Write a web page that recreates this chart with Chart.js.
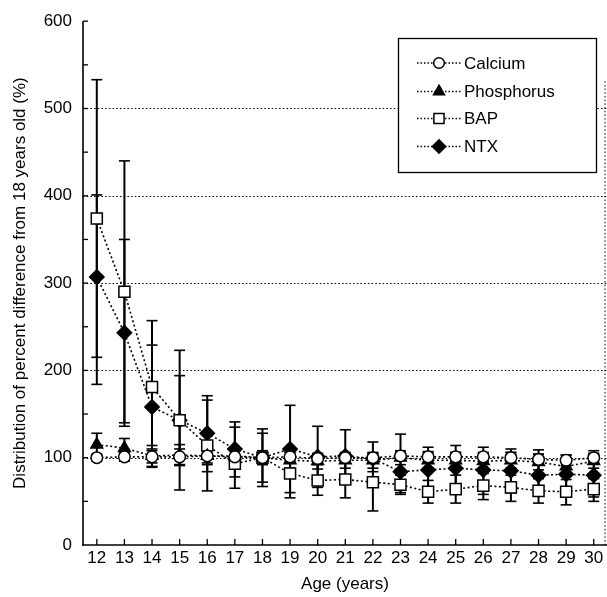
<!DOCTYPE html>
<html>
<head>
<meta charset="utf-8">
<script src="https://cdn.jsdelivr.net/npm/chart.js@4.4.1/dist/chart.umd.min.js"></script>
<style>
html,body{margin:0;padding:0;background:#fff;}
#wrap{width:607px;height:597px;position:relative;}
</style>
</head>
<body>
<div id="wrap"><canvas id="c" width="607" height="597"></canvas></div>
<script>
// ---- Data ----
const ages = [12,13,14,15,16,17,18,19,20,21,22,23,24,25,26,27,28,29,30];
const yTickValues = [0,100,200,300,400,500,600];

const calcium     = [100,101,101,101,102,101,100,101, 99,100,100,102,101,101,101,100, 98, 97,100];
const calciumHigh = [104,106,108,110,110,108,106,106,104,105,105,106,107,106,106,106,104,103,105];
const calciumLow  = [ 96, 96, 94, 92, 94, 94, 94, 96, 94, 95, 95, 98, 95, 96, 96, 94, 92, 91, 95];

const phosphorus     = [115,111,102,103,102,102,100, 97, 96, 97, 97,100, 97, 97, 96, 97, 95, 90, 96];
const phosphorusHigh = [128,122,114,115,112,110,108,106,105,106,106,108,106,106,105,106,104,100,104];
const phosphorusLow  = [102,100, 90, 91, 92, 94, 92, 88, 87, 88, 88, 92, 88, 88, 87, 88, 86, 80, 88];

const bap     = [374,290,181,143,114, 93,100, 82, 74, 75, 72, 69, 61, 64, 68, 66, 62, 61, 64];
const bapHigh = [533,440,257,223,166,135,133,110, 92, 96,105, 80, 74, 80, 82, 80, 76, 75, 76];
const bapLow  = [215,140,110, 63, 62, 65, 67, 54, 57, 54, 39, 60, 48, 48, 52, 50, 48, 46, 50];

const ntx     = [307,243,158,143,128,110,100,110,101,102, 99, 84, 86, 88, 86, 85, 80, 81, 80];
const ntxHigh = [401,350,229,194,171,141,128,160,136,132,118,127,112,114,112,110,109,103,108];
const ntxLow  = [184,136, 89, 92, 84, 78, 72, 60, 66, 72, 84, 58, 62, 62, 58, 60, 56, 60, 55];

const seriesNames = ['Calcium','Phosphorus','BAP','NTX'];

// ---- Build ----
const FONT = '"Liberation Sans", Arial, Helvetica, sans-serif';
const toPts = arr => arr.map((v,i)=>({x:ages[i], y:v}));
const styles = [
  {pointStyle:'circle',   radius:5.8, fill:'#fff'},
  {pointStyle:'triangle', radius:6.8, fill:'#000'},
  {pointStyle:'rect',     radius:7.8, fill:'#fff'},
  {pointStyle:'rectRot',  radius:7.2, fill:'#000'}
];
const values = [calcium, phosphorus, bap, ntx];
const highs = [calciumHigh, phosphorusHigh, bapHigh, ntxHigh];
const lows  = [calciumLow, phosphorusLow, bapLow, ntxLow];

const datasets = values.map((v,k)=>({
  label: seriesNames[k],
  data: toPts(v),
  borderColor:'#000',
  borderWidth:1.6,
  borderDash:[2,2.5],
  pointStyle: styles[k].pointStyle,
  pointRadius: styles[k].radius,
  pointBackgroundColor: styles[k].fill,
  pointBorderColor:'#000',
  pointBorderWidth:1.5,
  fill:false,
  tension:0,
  clip:false
}));

function line(ctx,x1,y1,x2,y2){ctx.beginPath();ctx.moveTo(x1,y1);ctx.lineTo(x2,y2);ctx.stroke();}

function drawMarker(ctx, st, x, y){
  ctx.save();
  ctx.fillStyle = st.fill; ctx.strokeStyle='#000'; ctx.lineWidth=1.5;
  const r = st.radius;
  ctx.beginPath();
  if(st.pointStyle==='circle'){ ctx.arc(x,y,r,0,Math.PI*2); }
  else if(st.pointStyle==='triangle'){
    ctx.moveTo(x, y-r); ctx.lineTo(x+r*0.866, y+r*0.5); ctx.lineTo(x-r*0.866, y+r*0.5); ctx.closePath();
  } else if(st.pointStyle==='rect'){
    const s=r*Math.SQRT1_2; ctx.rect(x-s,y-s,2*s,2*s);
  } else {
    ctx.moveTo(x,y-r); ctx.lineTo(x+r,y); ctx.lineTo(x,y+r); ctx.lineTo(x-r,y); ctx.closePath();
  }
  ctx.fill(); ctx.stroke();
  ctx.restore();
}

const overlay = {
  id:'overlay',
  beforeDatasetsDraw(chart){
    const {ctx, chartArea:a, scales:{x,y}} = chart;
    ctx.save();
    ctx.strokeStyle='#000';
    // dotted horizontal grid
    ctx.lineWidth=1.2; ctx.setLineDash([1.5,2.2]);
    yTickValues.filter(v=>v>0 && v<600).forEach(v=>{
      const py=Math.round(y.getPixelForValue(v))+0.5; line(ctx,a.left,py,a.right,py);
    });
    // right dotted border
    ctx.lineWidth=1;
    line(ctx,a.right-2,a.top+60,a.right-2,a.bottom);
    ctx.setLineDash([]);
    // error bars
    for(let k=0;k<4;k++){
      for(let i=0;i<ages.length;i++){
        const px=x.getPixelForValue(ages[i]);
        const pt=y.getPixelForValue(highs[k][i]);
        const pb=y.getPixelForValue(lows[k][i]);
        ctx.lineWidth=2; line(ctx,px,pt,px,pb);
        ctx.lineWidth=1.6; line(ctx,px-5.5,pt,px+5.5,pt); line(ctx,px-5.5,pb,px+5.5,pb);
      }
    }
    // axes
    ctx.lineWidth=1.6;
    line(ctx,a.left,a.top,a.left,a.bottom+0.8);
    line(ctx,a.left-0.8,a.bottom,a.right,a.bottom);
    // inward ticks
    ctx.lineWidth=1.3;
    for(let v=50; v<=600; v+=50){ const py=y.getPixelForValue(v); line(ctx,a.left,py,a.left+5,py); }
    ages.forEach(v=>{ const px=x.getPixelForValue(v); line(ctx,px,a.bottom,px,a.bottom-6); });
    ctx.restore();
  },
  afterDraw(chart){
    const ctx=chart.ctx;
    ctx.save();
    const bx=398, by=38, bw=198, bh=134;
    ctx.fillStyle='#fff'; ctx.fillRect(bx,by,bw,bh);
    ctx.strokeStyle='#000'; ctx.lineWidth=1.3; ctx.strokeRect(bx+0.5,by+0.5,bw,bh);
    const rows=[63,91.5,118.5,146.5];
    ctx.font='17px '+FONT; ctx.textBaseline='middle'; ctx.textAlign='left';
    rows.forEach((ry,k)=>{
      ctx.strokeStyle='#000'; ctx.lineWidth=1.5; ctx.setLineDash([1.5,2]);
      line(ctx,417,ry,461,ry);
      ctx.setLineDash([]);
      const st=Object.assign({},styles[k]); st.radius=styles[k].radius*0.92;
      drawMarker(ctx,st,439,ry);
      ctx.fillStyle='#000';
      ctx.fillText(seriesNames[k],464,ry+1);
    });
    ctx.restore();
  }
};

new Chart(document.getElementById('c'),{
  type:'line',
  data:{datasets},
  options:{
    responsive:false,
    animation:false,
    devicePixelRatio:1,
    layout:{autoPadding:false,padding:{top:18,right:0,bottom:0,left:0}},
    plugins:{legend:{display:false},tooltip:{enabled:false}},
    scales:{
      x:{
        type:'linear', min:11.5, max:30.48,
        afterBuildTicks: s=>{ s.ticks = ages.map(v=>({value:v})); },
        ticks:{autoSkip:false,maxRotation:0,color:'#000',font:{family:FONT,size:17},padding:3,callback:v=>String(v)},
        grid:{display:false,drawTicks:false},
        border:{display:false},
        title:{display:true,text:'Age (years)',color:'#000',font:{family:FONT,size:17},padding:{top:2,bottom:2}},
        afterFit: s=>{ s.height=52; s.paddingRight=0; s.paddingLeft=0; }
      },
      y:{
        type:'linear', min:0, max:600,
        afterBuildTicks: s=>{ s.ticks = yTickValues.map(v=>({value:v})); },
        ticks:{color:'#000',font:{family:FONT,size:17},padding:11},
        grid:{display:false,drawTicks:false},
        border:{display:false},
        title:{display:true,text:'Distribution of percent difference from 18 years old (%)',color:'#000',font:{family:FONT,size:17},padding:{top:10,bottom:0}},
        afterFit: s=>{ s.width=83; }
      }
    }
  },
  plugins:[overlay]
});
</script>
</body>
</html>
